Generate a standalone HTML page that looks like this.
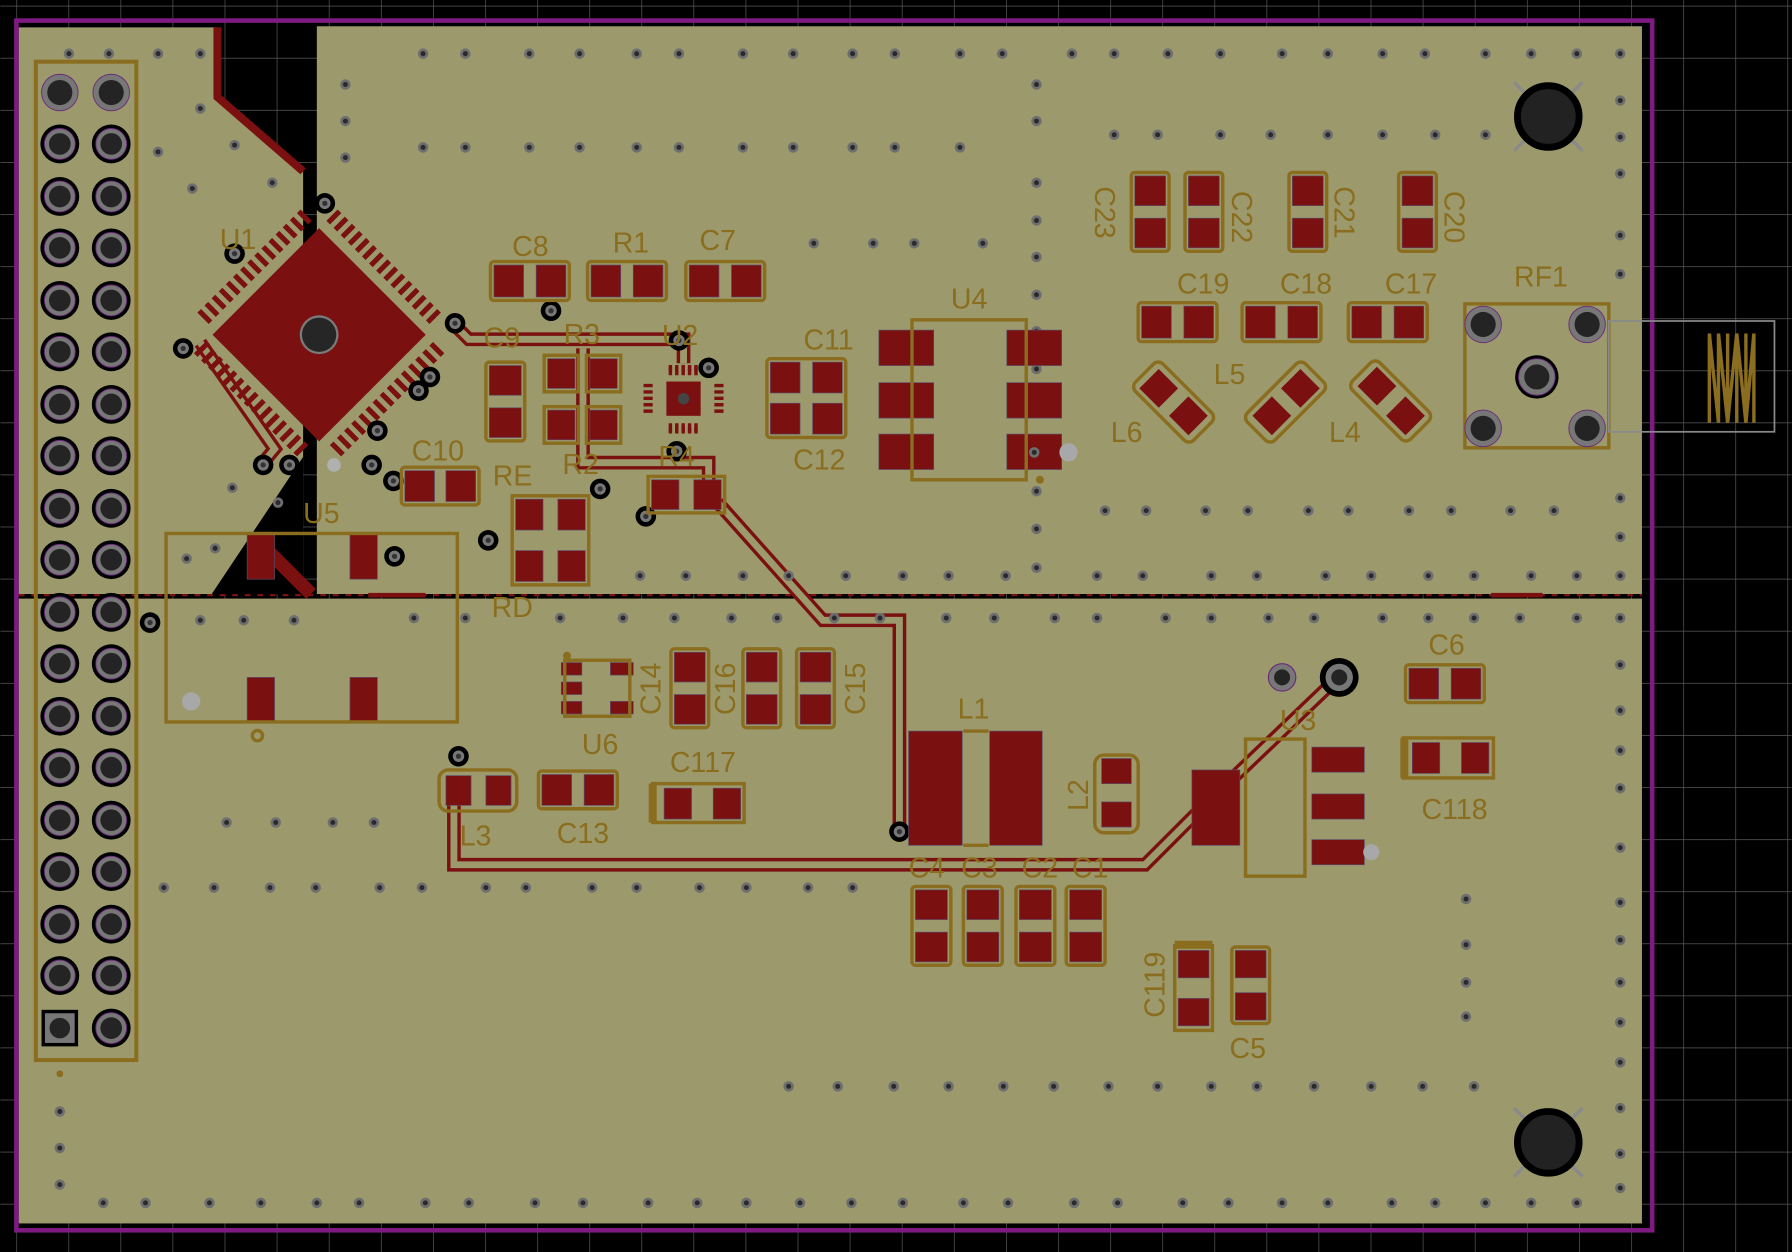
<!DOCTYPE html>
<html><head><meta charset="utf-8"><style>
html,body{margin:0;padding:0;background:#000;}
svg{display:block}
text{font-family:"Liberation Sans",sans-serif;font-size:25px;fill:#8a6d1e;}
</style></head><body>
<svg width="1792" height="1252" viewBox="0 0 1568 1096" xmlns="http://www.w3.org/2000/svg">
<defs>
<pattern id="grid" x="59.5" y="5" width="45.6" height="45.6" patternUnits="userSpaceOnUse">
<path d="M0 0V45.6M0 0H45.6" stroke="#5a5a5a" stroke-width="1.2" fill="none"/>
</pattern>
<g id="v"><circle r="4.6" fill="#6e6e6e"/><circle r="2.2" fill="#2a2a2a"/></g>
<g id="bv"><circle r="9" fill="#000"/><circle r="5" fill="#777"/><circle r="2.3" fill="#333"/></g>
<g id="p"><circle r="17" fill="#000"/><circle r="13.5" fill="#777" stroke="#6a2a7a" stroke-width="0.8"/><circle r="9.5" fill="#242424"/></g>
<g id="big"><circle r="16" fill="#777" stroke="#6a2a7a" stroke-width="0.8"/><circle r="11" fill="#242424"/></g>
</defs>
<rect width="1568" height="1096" fill="#000"/>
<rect width="1568" height="1096" fill="url(#grid)"/>
<!-- board -->
<path d="M16 24 H190 V85 L230 120 L265 150 L265 520 H16 Z" fill="#9c9a6c"/>
<rect x="277" y="23" width="1160" height="497" fill="#9c9a6c"/>
<rect x="16" y="524" width="1421" height="547" fill="#9c9a6c"/>
<path d="M185 520 L265 400 L265 520Z" fill="#000"/>
<path d="M190 24 V85 L265 150" stroke="#7a1010" stroke-width="7" fill="none"/>
<line x1="16" y1="521" x2="1437" y2="521" stroke="#7a1010" stroke-width="2" stroke-dasharray="5 6"/>
<line x1="1305" y1="521" x2="1350" y2="521" stroke="#7a1010" stroke-width="4"/>
<line x1="322" y1="521" x2="372" y2="521" stroke="#7a1010" stroke-width="4"/>
<rect x="14" y="18" width="1432" height="1059" fill="none" stroke="#7e1a82" stroke-width="4"/>

<!-- traces -->
<g fill="none" stroke-linejoin="miter">
<g stroke="#7a1010" stroke-width="12">
<path d="M397 692 V757 H1002 L1062 697"/>
<path d="M787 728 V543 H720 L628 440"/>
<path d="M1080 680 L1172 592"/>
<path d="M398 285 L410 297 H598 V318"/>
<path d="M510 305 V405 H620 V440"/>
<path d="M230 405 L240 393 L175 300"/>
<path d="M232 480 L272 520"/>
</g>
<g stroke="#9c9a6c" stroke-width="6">
<path d="M397 692 V757 H1002 L1062 697"/>
<path d="M787 728 V543 H720 L628 440"/>
<path d="M1080 680 L1172 592"/>
<path d="M398 285 L410 297 H598 V318"/>
<path d="M510 305 V405 H620 V440"/>
<path d="M230 405 L240 393 L175 300"/>
</g>
</g>

<!-- vias -->
<g>
<use href="#v" x="60" y="47"/><use href="#v" x="95" y="47"/><use href="#v" x="138" y="47"/><use href="#v" x="175" y="47"/>
<use href="#v" x="175" y="95"/><use href="#v" x="138" y="133"/><use href="#v" x="205" y="127"/><use href="#v" x="168" y="165"/><use href="#v" x="238" y="160"/>
<use href="#v" x="203" y="427"/><use href="#v" x="243" y="440"/><use href="#v" x="163" y="489"/><use href="#v" x="188" y="480"/>
<use href="#v" x="370" y="47"/><use href="#v" x="407" y="47"/><use href="#v" x="463" y="47"/><use href="#v" x="507" y="47"/><use href="#v" x="557" y="47"/><use href="#v" x="594" y="47"/><use href="#v" x="650" y="47"/><use href="#v" x="694" y="47"/><use href="#v" x="746" y="47"/><use href="#v" x="783" y="47"/><use href="#v" x="840" y="47"/><use href="#v" x="877" y="47"/><use href="#v" x="938" y="47"/><use href="#v" x="975" y="47"/><use href="#v" x="1022" y="47"/><use href="#v" x="1068" y="47"/><use href="#v" x="1122" y="47"/><use href="#v" x="1162" y="47"/><use href="#v" x="1210" y="47"/><use href="#v" x="1247" y="47"/><use href="#v" x="1300" y="47"/><use href="#v" x="1340" y="47"/><use href="#v" x="1380" y="47"/><use href="#v" x="1418" y="47"/>
<use href="#v" x="370" y="129"/><use href="#v" x="407" y="129"/><use href="#v" x="463" y="129"/><use href="#v" x="507" y="129"/><use href="#v" x="557" y="129"/><use href="#v" x="594" y="129"/><use href="#v" x="650" y="129"/><use href="#v" x="694" y="129"/><use href="#v" x="746" y="129"/><use href="#v" x="783" y="129"/><use href="#v" x="840" y="129"/>
<use href="#v" x="302" y="74"/><use href="#v" x="302" y="106"/><use href="#v" x="302" y="138"/>
<use href="#v" x="907" y="74"/><use href="#v" x="907" y="106"/><use href="#v" x="907" y="160"/><use href="#v" x="907" y="193"/><use href="#v" x="907" y="225"/><use href="#v" x="907" y="258"/><use href="#v" x="907" y="290"/><use href="#v" x="907" y="323"/><use href="#v" x="907" y="430"/><use href="#v" x="907" y="463"/><use href="#v" x="907" y="497"/>
<use href="#v" x="975" y="118"/><use href="#v" x="1013" y="118"/><use href="#v" x="1068" y="118"/><use href="#v" x="1112" y="118"/><use href="#v" x="1162" y="118"/><use href="#v" x="1210" y="118"/><use href="#v" x="1256" y="118"/><use href="#v" x="1300" y="118"/><use href="#v" x="1340" y="118"/>
<use href="#v" x="1418" y="88"/><use href="#v" x="1418" y="120"/><use href="#v" x="1418" y="152"/><use href="#v" x="1418" y="206"/><use href="#v" x="1418" y="240"/><use href="#v" x="1418" y="436"/><use href="#v" x="1418" y="470"/><use href="#v" x="1418" y="504"/><use href="#v" x="1418" y="541"/><use href="#v" x="1418" y="582"/><use href="#v" x="1418" y="622"/><use href="#v" x="1418" y="657"/><use href="#v" x="1418" y="690"/><use href="#v" x="1418" y="742"/><use href="#v" x="1418" y="790"/><use href="#v" x="1418" y="823"/><use href="#v" x="1418" y="860"/><use href="#v" x="1418" y="895"/><use href="#v" x="1418" y="930"/><use href="#v" x="1418" y="970"/><use href="#v" x="1418" y="1010"/><use href="#v" x="1418" y="1040"/>
<use href="#v" x="712" y="213"/><use href="#v" x="764" y="213"/><use href="#v" x="800" y="213"/><use href="#v" x="860" y="213"/>
<use href="#v" x="967" y="447"/><use href="#v" x="1003" y="447"/><use href="#v" x="1055" y="447"/><use href="#v" x="1092" y="447"/><use href="#v" x="1145" y="447"/><use href="#v" x="1180" y="447"/><use href="#v" x="1233" y="447"/><use href="#v" x="1270" y="447"/><use href="#v" x="1322" y="447"/><use href="#v" x="1360" y="447"/>
<use href="#v" x="560" y="504"/><use href="#v" x="600" y="504"/><use href="#v" x="650" y="504"/><use href="#v" x="690" y="504"/><use href="#v" x="740" y="504"/><use href="#v" x="790" y="504"/><use href="#v" x="830" y="504"/><use href="#v" x="880" y="504"/><use href="#v" x="960" y="504"/><use href="#v" x="1000" y="504"/><use href="#v" x="1060" y="504"/><use href="#v" x="1100" y="504"/><use href="#v" x="1160" y="504"/><use href="#v" x="1200" y="504"/><use href="#v" x="1250" y="504"/><use href="#v" x="1290" y="504"/><use href="#v" x="1340" y="504"/><use href="#v" x="1380" y="504"/>
<use href="#v" x="175" y="543"/><use href="#v" x="213" y="543"/><use href="#v" x="257" y="543"/><use href="#v" x="362" y="541"/><use href="#v" x="407" y="541"/><use href="#v" x="490" y="541"/><use href="#v" x="545" y="541"/><use href="#v" x="590" y="541"/><use href="#v" x="640" y="541"/><use href="#v" x="680" y="541"/><use href="#v" x="730" y="541"/><use href="#v" x="770" y="541"/><use href="#v" x="828" y="541"/><use href="#v" x="870" y="541"/><use href="#v" x="923" y="541"/><use href="#v" x="960" y="541"/><use href="#v" x="1020" y="541"/><use href="#v" x="1060" y="541"/><use href="#v" x="1110" y="541"/><use href="#v" x="1150" y="541"/><use href="#v" x="1210" y="541"/><use href="#v" x="1250" y="541"/><use href="#v" x="1290" y="541"/><use href="#v" x="1330" y="541"/><use href="#v" x="1380" y="541"/>
<use href="#v" x="198" y="720"/><use href="#v" x="241" y="720"/><use href="#v" x="291" y="720"/><use href="#v" x="327" y="720"/>
<use href="#v" x="143" y="777"/><use href="#v" x="187" y="777"/><use href="#v" x="236" y="777"/><use href="#v" x="276" y="777"/><use href="#v" x="332" y="777"/><use href="#v" x="369" y="777"/><use href="#v" x="425" y="777"/><use href="#v" x="460" y="777"/><use href="#v" x="518" y="777"/><use href="#v" x="557" y="777"/><use href="#v" x="612" y="777"/><use href="#v" x="653" y="777"/><use href="#v" x="707" y="777"/><use href="#v" x="746" y="777"/>
<use href="#v" x="1283" y="787"/><use href="#v" x="1283" y="827"/><use href="#v" x="1283" y="860"/><use href="#v" x="1283" y="890"/>
<use href="#v" x="690" y="951"/><use href="#v" x="733" y="951"/><use href="#v" x="782" y="951"/><use href="#v" x="830" y="951"/><use href="#v" x="878" y="951"/><use href="#v" x="922" y="951"/><use href="#v" x="970" y="951"/><use href="#v" x="1013" y="951"/><use href="#v" x="1060" y="951"/><use href="#v" x="1100" y="951"/><use href="#v" x="1150" y="951"/><use href="#v" x="1200" y="951"/><use href="#v" x="1245" y="951"/><use href="#v" x="1290" y="951"/>
<use href="#v" x="90" y="1053"/><use href="#v" x="127" y="1053"/><use href="#v" x="183" y="1053"/><use href="#v" x="228" y="1053"/><use href="#v" x="277" y="1053"/><use href="#v" x="314" y="1053"/><use href="#v" x="372" y="1053"/><use href="#v" x="410" y="1053"/><use href="#v" x="468" y="1053"/><use href="#v" x="510" y="1053"/><use href="#v" x="567" y="1053"/><use href="#v" x="610" y="1053"/><use href="#v" x="653" y="1053"/><use href="#v" x="700" y="1053"/><use href="#v" x="745" y="1053"/><use href="#v" x="790" y="1053"/><use href="#v" x="843" y="1053"/><use href="#v" x="882" y="1053"/><use href="#v" x="940" y="1053"/><use href="#v" x="978" y="1053"/><use href="#v" x="1035" y="1053"/><use href="#v" x="1075" y="1053"/><use href="#v" x="1122" y="1053"/><use href="#v" x="1162" y="1053"/><use href="#v" x="1218" y="1053"/><use href="#v" x="1256" y="1053"/><use href="#v" x="1300" y="1053"/><use href="#v" x="1340" y="1053"/><use href="#v" x="1380" y="1053"/>
<use href="#v" x="52" y="973"/><use href="#v" x="52" y="1005"/><use href="#v" x="52" y="1037"/>
</g>

<!-- header -->
<rect x="31" y="54" width="88" height="874" fill="none" stroke="#8a6d1e" stroke-width="3.5"/>
<g>
<use href="#big" x="52" y="81"/><use href="#big" x="97" y="81"/>
<use href="#p" x="52" y="126"/><use href="#p" x="97" y="126"/>
<use href="#p" x="52" y="172"/><use href="#p" x="97" y="172"/>
<use href="#p" x="52" y="217"/><use href="#p" x="97" y="217"/>
<use href="#p" x="52" y="263"/><use href="#p" x="97" y="263"/>
<use href="#p" x="52" y="308"/><use href="#p" x="97" y="308"/>
<use href="#p" x="52" y="354"/><use href="#p" x="97" y="354"/>
<use href="#p" x="52" y="399"/><use href="#p" x="97" y="399"/>
<use href="#p" x="52" y="445"/><use href="#p" x="97" y="445"/>
<use href="#p" x="52" y="490"/><use href="#p" x="97" y="490"/>
<use href="#p" x="52" y="536"/><use href="#p" x="97" y="536"/>
<use href="#p" x="52" y="581"/><use href="#p" x="97" y="581"/>
<use href="#p" x="52" y="627"/><use href="#p" x="97" y="627"/>
<use href="#p" x="52" y="672"/><use href="#p" x="97" y="672"/>
<use href="#p" x="52" y="718"/><use href="#p" x="97" y="718"/>
<use href="#p" x="52" y="763"/><use href="#p" x="97" y="763"/>
<use href="#p" x="52" y="809"/><use href="#p" x="97" y="809"/>
<use href="#p" x="52" y="854"/><use href="#p" x="97" y="854"/>
<rect x="36" y="884" width="32" height="32" fill="#000"/><rect x="39" y="887" width="26" height="26" fill="#777"/><circle cx="52" cy="900" r="9" fill="#242424"/>
<use href="#p" x="97" y="900"/>
<circle cx="52" cy="940" r="3" fill="#8a6d1e"/>
</g>

<!-- U1 -->
<g transform="translate(279,293) rotate(45)">
<rect x="-66" y="-66" width="132" height="132" fill="#7a1010"/>
<g stroke="#7a1010" stroke-width="14" stroke-dasharray="4.5 4.3">
<line x1="-66" y1="-82" x2="66" y2="-82"/>
<line x1="-66" y1="82" x2="66" y2="82"/>
<line x1="-82" y1="-66" x2="-82" y2="66"/>
<line x1="82" y1="-66" x2="82" y2="66"/>
</g>
</g>
<circle cx="279" cy="293" r="17" fill="#7a7a7a"/><circle cx="279" cy="293" r="15" fill="#262626"/>
<use href="#bv" x="284" y="178"/><use href="#bv" x="398" y="283"/><use href="#bv" x="160" y="305"/><use href="#bv" x="205" y="222"/>
<use href="#bv" x="376" y="330"/><use href="#bv" x="366" y="342"/><use href="#bv" x="330" y="377"/><use href="#bv" x="230" y="407"/><use href="#bv" x="253" y="407"/><use href="#bv" x="325" y="407"/>
<use href="#bv" x="344" y="421"/><use href="#bv" x="482" y="272"/><use href="#bv" x="594" y="298"/><use href="#bv" x="525" y="428"/><use href="#bv" x="565" y="452"/><use href="#bv" x="427" y="473"/><use href="#bv" x="345" y="487"/><use href="#bv" x="131" y="545"/><use href="#bv" x="401" y="662"/><use href="#bv" x="787" y="728"/><use href="#bv" x="620" y="322"/><use href="#bv" x="592" y="395"/>
<text x="192" y="218">U1</text>

<!-- pads & silk -->
<g fill="#7a1010" stroke="#5e4a6a" stroke-width="0.6">
<!-- C8 R1 C7 -->
<rect x="432" y="232" width="26" height="28"/><rect x="469" y="232" width="26" height="28"/>
<rect x="517" y="232" width="26" height="28"/><rect x="554" y="232" width="26" height="28"/>
<rect x="603" y="232" width="26" height="28"/><rect x="640" y="232" width="26" height="28"/>
<!-- C9 -->
<rect x="428" y="320" width="28" height="26"/><rect x="428" y="357" width="28" height="26"/>
<!-- R3/R2 -->
<rect x="479" y="314" width="24" height="26"/><rect x="516" y="314" width="24" height="26"/>
<rect x="479" y="359" width="24" height="26"/><rect x="516" y="359" width="24" height="26"/>
<!-- R4 -->
<rect x="570" y="420" width="24" height="26"/><rect x="607" y="420" width="24" height="26"/>
<!-- C11 C12 -->
<rect x="674" y="317" width="26" height="27"/><rect x="711" y="317" width="26" height="27"/>
<rect x="674" y="353" width="26" height="27"/><rect x="711" y="353" width="26" height="27"/>
<!-- U4 -->
<rect x="769" y="289" width="48" height="31"/><rect x="769" y="335" width="48" height="31"/><rect x="769" y="380" width="48" height="31"/>
<rect x="881" y="289" width="48" height="31"/><rect x="881" y="335" width="48" height="31"/><rect x="881" y="380" width="48" height="31"/>
<!-- C10 -->
<rect x="354" y="412" width="26" height="27"/><rect x="390" y="412" width="26" height="27"/>
<!-- RE RD -->
<rect x="451" y="437" width="24" height="27"/><rect x="488" y="437" width="24" height="27"/>
<rect x="451" y="482" width="24" height="27"/><rect x="488" y="482" width="24" height="27"/>
<!-- C23 C22 C21 C20 -->
<rect x="993" y="154" width="27" height="26"/><rect x="993" y="191" width="27" height="26"/>
<rect x="1040" y="154" width="27" height="26"/><rect x="1040" y="191" width="27" height="26"/>
<rect x="1131" y="154" width="27" height="26"/><rect x="1131" y="191" width="27" height="26"/>
<rect x="1227" y="154" width="27" height="26"/><rect x="1227" y="191" width="27" height="26"/>
<!-- C19 C18 C17 -->
<rect x="999" y="268" width="26" height="28"/><rect x="1036" y="268" width="26" height="28"/>
<rect x="1090" y="268" width="26" height="28"/><rect x="1127" y="268" width="26" height="28"/>
<rect x="1183" y="268" width="26" height="28"/><rect x="1220" y="268" width="26" height="28"/>
<!-- U5 -->
<rect x="216" y="467" width="24" height="40"/><rect x="306" y="467" width="24" height="40"/>
<rect x="216" y="593" width="24" height="40"/><rect x="306" y="593" width="24" height="40"/>
<!-- U6 -->
<rect x="491" y="580" width="18" height="11"/><rect x="491" y="597" width="18" height="11"/><rect x="491" y="614" width="18" height="11"/>
<rect x="534" y="580" width="20" height="11"/><rect x="534" y="614" width="20" height="11"/>
<!-- C14 C16 C15 -->
<rect x="590" y="571" width="27" height="26"/><rect x="590" y="608" width="27" height="26"/>
<rect x="653" y="571" width="27" height="26"/><rect x="653" y="608" width="27" height="26"/>
<rect x="700" y="571" width="27" height="26"/><rect x="700" y="608" width="27" height="26"/>
<!-- L3 C13 C117 -->
<rect x="390" y="679" width="22" height="26"/><rect x="425" y="679" width="22" height="26"/>
<rect x="474" y="678" width="26" height="27"/><rect x="511" y="678" width="26" height="27"/>
<rect x="581" y="690" width="24" height="27"/><rect x="624" y="690" width="24" height="27"/>
<!-- L1 -->
<rect x="795" y="640" width="47" height="100"/><rect x="866" y="640" width="46" height="100"/>
<!-- L2 -->
<rect x="964" y="664" width="26" height="22"/><rect x="964" y="702" width="26" height="22"/>
<!-- U3 -->
<rect x="1043" y="674" width="42" height="66"/>
<rect x="1148" y="654" width="46" height="22"/><rect x="1148" y="695" width="46" height="22"/><rect x="1148" y="735" width="46" height="22"/>
<!-- C6 C118 -->
<rect x="1233" y="585" width="26" height="27"/><rect x="1270" y="585" width="26" height="27"/>
<rect x="1236" y="650" width="24" height="27"/><rect x="1279" y="650" width="24" height="27"/>
<!-- C4..C1 -->
<rect x="801" y="779" width="28" height="26"/><rect x="801" y="816" width="28" height="26"/>
<rect x="846" y="779" width="28" height="26"/><rect x="846" y="816" width="28" height="26"/>
<rect x="892" y="779" width="28" height="26"/><rect x="892" y="816" width="28" height="26"/>
<rect x="936" y="779" width="28" height="26"/><rect x="936" y="816" width="28" height="26"/>
<!-- C119 C5 -->
<rect x="1031" y="832" width="27" height="24"/><rect x="1031" y="874" width="27" height="24"/>
<rect x="1081" y="832" width="27" height="24"/><rect x="1081" y="869" width="27" height="24"/>
</g>
<!-- L6 L5 L4 diamond pads -->
<g fill="#7a1010">
<rect x="-12" y="-12" width="24" height="24" transform="translate(1014,340) rotate(45)"/>
<rect x="-12" y="-12" width="24" height="24" transform="translate(1040,364) rotate(45)"/>
<rect x="-12" y="-12" width="24" height="24" transform="translate(1113,364) rotate(45)"/>
<rect x="-12" y="-12" width="24" height="24" transform="translate(1138,340) rotate(45)"/>
<rect x="-12" y="-12" width="24" height="24" transform="translate(1205,338) rotate(45)"/>
<rect x="-12" y="-12" width="24" height="24" transform="translate(1230,364) rotate(45)"/>
</g>

<!-- silk outlines -->
<g fill="none" stroke="#8a6d1e" stroke-width="3">
<rect x="429" y="229" width="69" height="34" rx="3"/>
<rect x="514" y="229" width="69" height="34" rx="3"/>
<rect x="600" y="229" width="69" height="34" rx="3"/>
<rect x="425" y="317" width="34" height="69" rx="3"/>
<rect x="476" y="311" width="30" height="32"/><rect x="513" y="311" width="30" height="32"/>
<rect x="476" y="356" width="30" height="32"/><rect x="513" y="356" width="30" height="32"/>
<rect x="567" y="417" width="67" height="32"/>
<rect x="671" y="314" width="69" height="69" rx="3"/>
<rect x="798" y="280" width="100" height="140"/>
<rect x="351" y="409" width="68" height="33" rx="3"/>
<rect x="448" y="434" width="67" height="78"/>
<rect x="990" y="151" width="33" height="69" rx="3"/>
<rect x="1037" y="151" width="33" height="69" rx="3"/>
<rect x="1128" y="151" width="33" height="69" rx="3"/>
<rect x="1224" y="151" width="33" height="69" rx="3"/>
<rect x="996" y="265" width="69" height="34" rx="3"/>
<rect x="1087" y="265" width="69" height="34" rx="3"/>
<rect x="1180" y="265" width="69" height="34" rx="3"/>
<rect x="-17" y="-36" width="34" height="72" rx="6" transform="translate(1027,352) rotate(-45)"/>
<rect x="-17" y="-36" width="34" height="72" rx="6" transform="translate(1125,352) rotate(45)"/>
<rect x="-17" y="-36" width="34" height="72" rx="6" transform="translate(1217,351) rotate(-45)"/>
<rect x="145" y="467" width="255" height="165"/>
<rect x="494" y="578" width="57" height="49"/>
<rect x="587" y="568" width="33" height="69" rx="3"/>
<rect x="650" y="568" width="33" height="69" rx="3"/>
<rect x="697" y="568" width="33" height="69" rx="3"/>
<rect x="384" y="674" width="68" height="36" rx="8"/>
<rect x="471" y="675" width="69" height="33" rx="3"/>
<rect x="571" y="686" width="80" height="34"/>
<line x1="571" y1="686" x2="571" y2="720" stroke-width="7"/>
<rect x="958" y="661" width="38" height="68" rx="8"/>
<rect x="1090" y="647" width="52" height="120"/>
<rect x="1230" y="582" width="69" height="33" rx="3"/>
<rect x="1228" y="646" width="79" height="35"/>
<line x1="1229" y1="646" x2="1229" y2="681" stroke-width="7"/>
<rect x="798" y="776" width="34" height="69" rx="3"/>
<rect x="843" y="776" width="34" height="69" rx="3"/>
<rect x="889" y="776" width="34" height="69" rx="3"/>
<rect x="933" y="776" width="34" height="69" rx="3"/>
<rect x="1028" y="828" width="33" height="74"/>
<line x1="1028" y1="827" x2="1061" y2="827" stroke-width="7"/>
<rect x="1078" y="829" width="33" height="67" rx="3"/>
<line x1="843" y1="640" x2="865" y2="640"/><line x1="843" y1="740" x2="865" y2="740"/>
<rect x="1282" y="266" width="126" height="126"/>
<circle cx="225" cy="644" r="4.5"/>
</g>
<circle cx="496" cy="574" r="3.5" fill="#8a6d1e"/>
<circle cx="910" cy="420" r="3.5" fill="#8a6d1e"/>
<circle cx="167" cy="614" r="8" fill="#a8a8a8"/>
<circle cx="935" cy="396" r="8" fill="#a8a8a8"/>
<circle cx="1200" cy="746" r="7" fill="#a8a8a8"/>
<circle cx="292" cy="407" r="6" fill="#b0b0b0"/>
<use href="#v" x="905" y="396"/>

<!-- U2 QFN -->
<g>
<rect x="583" y="334" width="30" height="30" fill="#7a1010"/>
<circle cx="598" cy="349" r="5" fill="#444"/>
<g stroke="#7a1010" stroke-width="4" stroke-dasharray="3 2.6">
<line x1="585" y1="323" x2="612" y2="323"/><line x1="585" y1="376" x2="612" y2="376"/>
<line x1="567" y1="336" x2="567" y2="363" stroke-width="8"/><line x1="629" y1="336" x2="629" y2="363" stroke-width="8"/>
</g>
<g stroke="#7a1010" stroke-width="9" stroke-dasharray="3 2.6">
<line x1="585" y1="324" x2="612" y2="324"/><line x1="585" y1="375" x2="612" y2="375"/>
</g>
</g>

<!-- RF1 -->
<use href="#big" x="1298" y="284"/><use href="#big" x="1389" y="284"/><use href="#big" x="1298" y="375"/><use href="#big" x="1389" y="375"/>
<circle cx="1345" cy="330" r="19" fill="#000"/><use href="#big" x="1345" y="330"/>
<rect x="1408" y="281" width="145" height="97" fill="none" stroke="#8a8a8a" stroke-width="1.5"/>
<path d="M1496 292 V370 M1504 292 V370 M1496 292 L1504 370 M1504 292 L1512 370 L1520 292 L1528 370 L1535 292 V370 M1512 292 V370 M1520 292 V370 M1528 292 V370" stroke="#8a6d1e" stroke-width="3" fill="none"/>

<!-- mounting holes -->
<g stroke="#8a8a8a" stroke-width="3">
<line x1="1325" y1="72" x2="1385" y2="132"/><line x1="1385" y1="72" x2="1325" y2="132"/>
<line x1="1325" y1="970" x2="1385" y2="1030"/><line x1="1385" y1="970" x2="1325" y2="1030"/>
</g>
<circle cx="1355" cy="102" r="27" fill="#222" stroke="#000" stroke-width="6"/>
<circle cx="1355" cy="1000" r="27" fill="#222" stroke="#000" stroke-width="6"/>

<!-- U3 vias -->
<use href="#big" x="1122" y="593" transform="translate(561,296.5) scale(0.5)"/>
<circle cx="1122" cy="593" r="12" fill="#777" stroke="#6a2a7a"/><circle cx="1122" cy="593" r="7" fill="#242424"/>
<circle cx="1172" cy="593" r="17" fill="#000"/><circle cx="1172" cy="593" r="12" fill="#777"/><circle cx="1172" cy="593" r="7" fill="#242424"/>

<!-- labels -->
<text x="448" y="224">C8</text>
<text x="536" y="221">R1</text>
<text x="612" y="219">C7</text>
<text x="423" y="304">C9</text>
<text x="493" y="301">R3</text>
<text x="579" y="302">U2</text>
<text x="703" y="306">C11</text>
<text x="832" y="270">U4</text>
<text x="694" y="411">C12</text>
<text x="360" y="403">C10</text>
<text x="431" y="425">RE</text>
<text x="492" y="415">R2</text>
<text x="576" y="408">R4</text>
<text x="430" y="540">RD</text>
<text x="265" y="458">U5</text>
<text x="509" y="660">U6</text>
<text x="402" y="740">L3</text>
<text x="487" y="738">C13</text>
<text x="586" y="676">C117</text>
<text x="838" y="629">L1</text>
<text x="1120" y="639">U3</text>
<text x="1250" y="573">C6</text>
<text x="1244" y="717">C118</text>
<text x="795" y="768">C4</text>
<text x="841" y="768">C3</text>
<text x="894" y="768">C2</text>
<text x="938" y="768">C1</text>
<text x="1076" y="926">C5</text>
<text x="1030" y="257">C19</text>
<text x="1120" y="257">C18</text>
<text x="1212" y="257">C17</text>
<text x="1325" y="251">RF1</text>
<text x="972" y="387">L6</text>
<text x="1062" y="336">L5</text>
<text x="1163" y="387">L4</text>
<text transform="translate(958,186) rotate(90)" text-anchor="middle">C23</text>
<text transform="translate(1078,190) rotate(90)" text-anchor="middle">C22</text>
<text transform="translate(1168,186) rotate(90)" text-anchor="middle">C21</text>
<text transform="translate(1264,190) rotate(90)" text-anchor="middle">C20</text>
<text transform="translate(578,603) rotate(-90)" text-anchor="middle">C14</text>
<text transform="translate(643,603) rotate(-90)" text-anchor="middle">C16</text>
<text transform="translate(757,603) rotate(-90)" text-anchor="middle">C15</text>
<text transform="translate(952,696) rotate(-90)" text-anchor="middle">L2</text>
<text transform="translate(1019,862) rotate(-90)" text-anchor="middle">C119</text>
</svg>
</body></html>
